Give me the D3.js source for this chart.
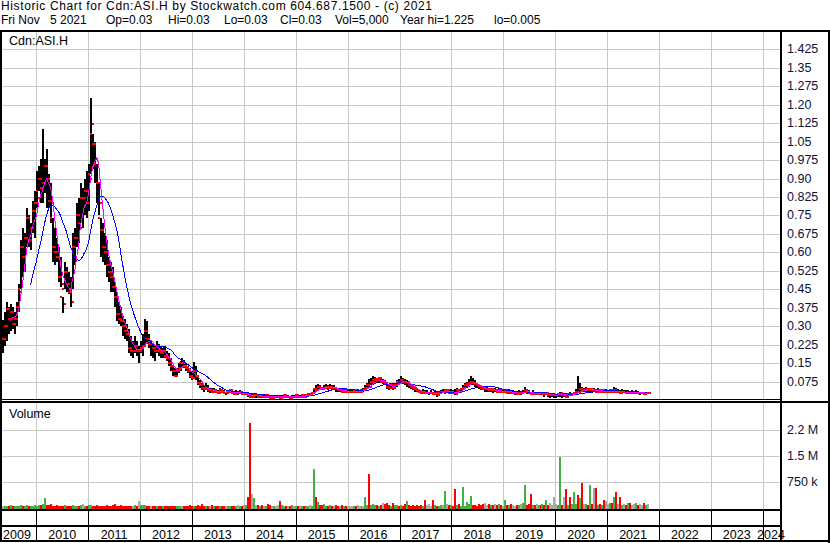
<!DOCTYPE html>
<html><head><meta charset="utf-8">
<script src="https://cdn.jsdelivr.net/npm/d3@7"></script>
<style>
body{margin:0;background:#fff}
svg{display:block;font-family:Arial,"Liberation Sans",sans-serif}
</style>
</head><body>
<svg id="c" width="830" height="543"></svg>
<script>
// ---------------- DATA ----------------
const titleText = "Historic Chart for Cdn:ASI.H by Stockwatch.com 604.687.1500 - (c) 2021";
const quoteFields = ["Fri Nov", "5 2021", "Op=0.03", "Hi=0.03", "Lo=0.03", "Cl=0.03", "Vol=5,000", "Year hi=1.225", "lo=0.005"];
const symbolLabel = "Cdn:ASI.H";
const volumeLabel = "Volume";
const firstBarDate = "2009-05-08";
const barStepDays = 14;   // one bar every two weeks
const shortMAPeriod = 5, longMAPeriod = 15;

const highs = [
.325,.36,.40,.38,.39,.38,.36,.40,.47,.65,
.70,.68,.78,.75,.72,.81,.85,.93,.95,.98,
1.10,.98,1.02,.92,.88,.74,.70,.66,.62,.58,
.42,.56,.54,.52,.50,.68,.70,.80,.82,.88,
.86,.90,.93,.96,1.225,1.08,1.05,.96,.88,.74,
.72,.68,.65,.58,.56,.54,.48,.44,.40,.38,
.34,.33,.31,.29,.26,.24,.26,.24,.22,.24,
.27,.33,.32,.27,.24,.23,.22,.24,.23,.22,
.21,.22,.20,.19,.17,.14,.13,.13,.15,.16,
.17,.165,.15,.14,.13,.12,.155,.14,.10,.08,
.07,.06,.07,.06,.05,.05,.05,.045,.04,.05,
.045,.04,.035,.04,.045,.04,.035,.04,.035,.04,
.035,.03,.035,.03,.03,.025,.03,.025,.02,.025,
.02,.02,.025,.02,.02,.015,.02,.02,.02,.02,
.02,.025,.02,.02,.015,.02,.02,.025,.02,.02,
.025,.02,.025,.03,.03,.035,.05,.06,.065,.06,
.055,.06,.065,.06,.065,.06,.06,.055,.05,.05,
.045,.045,.045,.04,.045,.04,.045,.04,.045,.04,
.045,.05,.06,.07,.085,.09,.10,.095,.09,.095,
.09,.085,.08,.065,.06,.065,.06,.07,.08,.085,
.10,.09,.085,.08,.07,.065,.06,.055,.05,.045,
.04,.045,.04,.04,.035,.04,.035,.04,.035,.035,
.04,.045,.045,.045,.04,.045,.04,.045,.05,.045,
.05,.06,.07,.075,.085,.098,.09,.08,.07,.065,
.06,.055,.05,.055,.05,.05,.045,.05,.045,.05,
.045,.04,.045,.04,.045,.04,.04,.035,.035,.04,
.035,.04,.055,.045,.04,.035,.04,.035,.03,.035,
.03,.035,.03,.035,.03,.025,.03,.025,.025,.03,
.035,.025,.03,.03,.03,.035,.03,.035,.045,.10,
.07,.055,.05,.055,.05,.05,.045,.05,.045,.05,
.045,.045,.04,.045,.04,.045,.045,.055,.05,.045,
.04,.045,.04,.04,.04,.035,.04,.035,.04,.035,
.035,.035,.03,.035,.03
];
const lows = [
.19,.22,.24,.27,.28,.29,.27,.30,.36,.45,
.50,.52,.62,.62,.61,.68,.66,.78,.85,.80,
.80,.84,.78,.78,.72,.56,.55,.56,.48,.46,
.355,.45,.44,.43,.38,.45,.55,.62,.64,.72,
.70,.75,.74,.77,.92,.94,.88,.80,.75,.58,
.56,.55,.50,.48,.44,.44,.38,.32,.31,.30,
.26,.25,.24,.19,.18,.17,.19,.18,.15,.19,
.18,.22,.23,.21,.18,.17,.16,.19,.18,.17,
.17,.17,.16,.14,.12,.10,.095,.10,.11,.12,
.13,.13,.12,.11,.09,.08,.09,.08,.06,.05,
.04,.035,.04,.035,.03,.03,.03,.03,.025,.03,
.03,.025,.02,.025,.03,.025,.02,.025,.02,.025,
.02,.02,.02,.015,.01,.01,.015,.01,.01,.01,
.01,.01,.015,.01,.01,.005,.01,.01,.01,.01,
.01,.01,.01,.01,.005,.01,.01,.015,.01,.01,
.015,.01,.015,.015,.02,.02,.03,.035,.04,.04,
.04,.04,.045,.04,.045,.04,.04,.035,.035,.035,
.03,.03,.03,.03,.03,.03,.03,.03,.03,.03,
.03,.035,.04,.045,.05,.06,.06,.065,.07,.07,
.07,.065,.06,.045,.04,.045,.04,.05,.055,.06,
.065,.065,.06,.055,.05,.045,.04,.035,.035,.03,
.025,.03,.025,.025,.02,.025,.02,.025,.015,.02,
.025,.03,.025,.03,.025,.03,.025,.02,.03,.03,
.035,.04,.045,.05,.055,.06,.06,.055,.05,.045,
.04,.04,.035,.035,.035,.035,.03,.035,.03,.03,
.03,.03,.03,.025,.03,.025,.025,.02,.02,.025,
.02,.025,.03,.025,.025,.02,.025,.02,.02,.02,
.02,.02,.015,.02,.015,.01,.015,.01,.01,.015,
.015,.01,.015,.01,.015,.02,.02,.02,.025,.03,
.035,.035,.035,.035,.03,.035,.03,.035,.03,.03,
.03,.03,.03,.03,.03,.03,.03,.035,.03,.03,
.025,.03,.03,.025,.03,.025,.025,.025,.025,.025,
.02,.025,.02,.02,.025
];
const closes = [
.25,.30,.37,.33,.36,.31,.33,.38,.44,.62,
.58,.66,.74,.65,.70,.77,.80,.82,.90,.86,
.88,.95,.90,.81,.80,.62,.60,.58,.50,.47,
.39,.52,.47,.44,.40,.62,.66,.75,.70,.82,
.82,.85,.80,.90,1.12,1.04,.98,.88,.80,.69,
.62,.60,.55,.52,.50,.46,.42,.35,.33,.32,
.30,.28,.27,.21,.20,.20,.22,.20,.20,.21,
.22,.28,.25,.23,.23,.21,.20,.22,.20,.19,
.20,.18,.17,.15,.14,.12,.10,.12,.13,.15,
.15,.14,.13,.12,.10,.09,.12,.10,.07,.06,
.05,.045,.05,.04,.04,.035,.04,.035,.03,.04,
.035,.03,.03,.035,.04,.03,.025,.03,.03,.035,
.025,.025,.03,.02,.015,.015,.02,.02,.015,.02,
.015,.015,.02,.015,.01,.01,.015,.015,.015,.01,
.015,.02,.015,.015,.01,.015,.015,.02,.015,.015,
.02,.015,.02,.025,.025,.03,.045,.04,.055,.05,
.045,.05,.055,.05,.055,.05,.05,.045,.04,.04,
.035,.04,.035,.035,.035,.035,.04,.035,.035,.035,
.04,.04,.05,.06,.055,.075,.08,.085,.08,.09,
.075,.075,.07,.055,.05,.06,.05,.06,.075,.07,
.08,.075,.07,.075,.06,.055,.05,.045,.04,.035,
.03,.035,.03,.03,.03,.03,.025,.03,.02,.03,
.035,.035,.04,.04,.03,.035,.03,.025,.04,.035,
.045,.05,.06,.065,.07,.075,.07,.065,.06,.055,
.05,.045,.045,.045,.04,.045,.04,.04,.035,.04,
.035,.035,.04,.03,.035,.03,.03,.03,.025,.03,
.03,.035,.04,.035,.03,.025,.03,.025,.025,.03,
.025,.03,.025,.03,.02,.02,.02,.02,.02,.025,
.03,.02,.02,.015,.025,.02,.025,.03,.035,.03,
.045,.04,.04,.045,.04,.045,.04,.04,.035,.04,
.035,.04,.035,.035,.035,.04,.035,.04,.035,.035,
.03,.035,.035,.03,.035,.03,.03,.03,.035,.03,
.03,.03,.025,.03,.03
];
const volumeThousands = [
40,30,50,35,60,45,30,50,40,70,
55,40,60,45,35,50,70,45,60,80,
90,260,70,60,115,50,40,60,30,45,
35,60,40,30,50,70,45,55,40,60,
90,50,40,60,70,55,40,60,35,45,
50,40,60,35,45,70,100,50,40,60,
45,35,50,40,55,30,60,45,200,70,
60,80,45,35,50,40,30,55,45,35,
40,30,50,35,45,30,40,35,50,30,
35,45,30,40,60,35,50,40,60,45,
100,50,40,30,45,60,35,40,30,50,
40,35,55,30,45,40,35,30,60,50,
45,60,80,290,2450,400,260,80,60,45,
70,50,40,90,60,40,30,50,70,200,
60,40,45,30,50,60,35,40,45,30,
40,30,50,45,60,40,1100,290,170,80,
60,90,50,40,70,45,35,80,50,40,
60,35,45,40,30,50,40,35,60,45,
40,50,290,60,980,60,110,80,70,50,
60,140,90,120,60,50,140,70,60,40,
70,50,90,200,60,40,80,50,60,40,
70,45,230,60,90,40,230,60,50,40,
80,70,490,100,60,80,40,520,70,100,
50,600,40,170,90,320,80,60,45,100,
70,90,120,60,100,80,70,110,60,90,
80,50,230,60,70,100,60,50,80,60,
90,130,660,70,110,400,80,60,90,70,
60,100,80,230,70,120,60,300,90,80,
1450,60,290,520,80,290,100,460,90,375,
260,720,110,90,60,660,100,570,550,80,
100,60,230,200,90,140,120,300,460,100,
300,60,110,80,120,120,60,100,140,70,
90,60,130,70,100
];
const priceTicks = [0.075,0.15,0.225,0.30,0.375,0.45,0.525,0.60,0.675,0.75,0.825,0.90,0.975,1.05,1.125,1.20,1.275,1.35,1.425];
const priceTickLabels = ["0.075","0.15","0.225","0.30","0.375","0.45","0.525","0.60","0.675","0.75","0.825","0.90","0.975","1.05","1.125","1.20","1.275","1.35","1.425"];
const volumeTicks = [750000, 1500000, 2250000];
const volumeTickLabels = ["750 k", "1.5 M", "2.2 M"];
const yearLabels = ["2009","2010","2011","2012","2013","2014","2015","2016","2017","2018","2019","2020","2021","2022","2023","2024"];

// ---------------- LAYOUT ----------------
const W = 830, H = 543;
const plotL = 2, plotR = 781;
const svg = d3.select("#c");
svg.append("rect").attr("width", W).attr("height", H).attr("fill", "#fff");

const x = d3.scaleTime().domain([new Date(2010,0,1), new Date(2024,0,1)]).range([36.3, 762.7]);
const yP = d3.scaleLinear().domain([0, 1.5]).range([400.2, 30.75]);
const yV = d3.scaleLinear().domain([0, 3000000]).range([507.5, 403.5]);

const start = new Date(firstBarDate + "T00:00:00");
const dates = closes.map((_, i) => d3.timeDay.offset(start, i * barStepDays));
const px = i => Math.round(x(dates[i])) + 0.5;

// grid
const grid = svg.append("g").attr("stroke", "#c8c8c8").attr("shape-rendering", "crispEdges");
priceTicks.forEach(t => {
  const yy = Math.round(yP(t)) + 0.5;
  grid.append("line").attr("x1", plotL).attr("x2", plotR).attr("y1", yy).attr("y2", yy);
});
volumeTicks.forEach(t => {
  const yy = Math.round(yV(t)) + 0.5;
  grid.append("line").attr("x1", plotL).attr("x2", plotR).attr("y1", yy).attr("y2", yy);
});
const yearStarts = yearLabels.map(y => new Date(+y, 0, 1));
yearStarts.slice(1).forEach(d => {
  const xx = Math.round(x(d)) + 0.5;
  grid.append("line").attr("x1", xx).attr("x2", xx).attr("y1", 32).attr("y2", 399);
  grid.append("line").attr("x1", xx).attr("x2", xx).attr("y1", 403).attr("y2", 509);
});

// volume bars
const volColor = i => i === 0 || closes[i] === closes[i-1] ? "#a9a9a9" : (closes[i] > closes[i-1] ? "#44b044" : "#ff0000");
svg.append("g").attr("shape-rendering", "crispEdges")
  .selectAll("rect").data(volumeThousands).join("rect")
  .attr("x", (d, i) => px(i) - 0.5)
  .attr("width", 2)
  .attr("y", d => yV(d * 1000))
  .attr("height", d => yV(0) + 1.5 - yV(d * 1000))
  .attr("fill", (d, i) => volColor(i));

// price bars: high-low bar, red open tick (left) and close tick (right)
const bars = svg.append("g").attr("shape-rendering", "crispEdges");
bars.selectAll("rect.hl").data(closes).join("rect").attr("class", "hl")
  .attr("x", (d, i) => px(i) - 0.5)
  .attr("width", 2)
  .attr("y", (d, i) => Math.round(yP(highs[i])))
  .attr("height", (d, i) => Math.max(Math.round(yP(lows[i])) - Math.round(yP(highs[i])), 1))
  .attr("fill", "#000");
bars.selectAll("rect.cl").data(closes).join("rect").attr("class", "cl")
  .attr("x", (d, i) => px(i) + 1.5)
  .attr("y", d => Math.round(yP(d)) - 1)
  .attr("width", 2).attr("height", 2)
  .attr("fill", "#ff0000");
bars.selectAll("rect.op").data(closes.slice(1)).join("rect").attr("class", "op")
  .attr("x", (d, i) => px(i + 1) - 2.5)
  .attr("y", (d, i) => Math.round(yP(Math.min(Math.max(closes[i], lows[i + 1]), highs[i + 1]))) - 1)
  .attr("width", 2).attr("height", 2)
  .attr("fill", "#ff0000");

// moving averages
function sma(arr, n) { return arr.map((_, i) => i < n - 1 ? null : d3.mean(arr.slice(i - n + 1, i + 1))); }
const maShort = sma(closes, shortMAPeriod);
const maLong = sma(closes, longMAPeriod);
const line = d3.line().defined(d => d.v != null).x(d => px(d.i)).y(d => yP(d.v));
svg.append("path").datum(maLong.map((v, i) => ({v, i})))
  .attr("d", line).attr("fill", "none").attr("stroke", "#0000ff").attr("stroke-width", 1).attr("shape-rendering", "crispEdges");
svg.append("path").datum(maShort.map((v, i) => ({v, i})))
  .attr("d", line).attr("fill", "none").attr("stroke", "#ff00ff").attr("stroke-width", 1).attr("shape-rendering", "crispEdges");

// frame lines
const frame = svg.append("g").attr("fill", "#000").attr("shape-rendering", "crispEdges");
frame.append("rect").attr("x", 0).attr("y", 30).attr("width", W).attr("height", 2);      // header line
frame.append("rect").attr("x", 0).attr("y", 30).attr("width", 2).attr("height", 512);    // left
frame.append("rect").attr("x", 780).attr("y", 30).attr("width", 2).attr("height", 512);  // plot right
frame.append("rect").attr("x", 828).attr("y", 30).attr("width", 2).attr("height", 513);  // image right
frame.append("rect").attr("x", plotL).attr("y", 399).attr("width", plotR - plotL).attr("height", 1);
frame.append("rect").attr("x", 0).attr("y", 401).attr("width", W).attr("height", 2);    // panel separator
frame.append("rect").attr("x", 0).attr("y", 509).attr("width", 781).attr("height", 2);  // volume bottom
frame.append("rect").attr("x", 0).attr("y", 525).attr("width", 781).attr("height", 2);  // year row top
frame.append("rect").attr("x", 0).attr("y", 540).attr("width", W).attr("height", 2);    // bottom
yearStarts.slice(1).forEach(d => {
  const xx = Math.round(x(d));
  frame.append("rect").attr("x", xx).attr("y", 511).attr("width", 1).attr("height", 14);
  frame.append("rect").attr("x", xx).attr("y", 527).attr("width", 1).attr("height", 13);
});

// year labels
const yl = svg.append("g").attr("font-size", "12.5px").attr("fill", "#000").attr("text-anchor", "middle");
yearLabels.forEach((lab, k) => {
  const a = x(yearStarts[k]);
  const b = x(new Date(+lab + 1, 0, 1));
  const c = Math.max(plotL + 15, Math.min(plotR - 10, (a + b) / 2));
  yl.append("text").attr("x", c).attr("y", 538.5).text(lab);
});

// right axes
const pAxis = svg.append("g").attr("transform", "translate(784,0)")
  .call(d3.axisRight(yP).tickValues(priceTicks).tickFormat((d, i) => priceTickLabels[i]).tickSize(0).tickPadding(3));
const vAxis = svg.append("g").attr("transform", "translate(784,0)")
  .call(d3.axisRight(yV).tickValues(volumeTicks).tickFormat((d, i) => volumeTickLabels[i]).tickSize(0).tickPadding(3));
[pAxis, vAxis].forEach(g => {
  g.select(".domain").remove();
  g.selectAll("text").attr("font-size", "12.5px").attr("font-family", "Arial, 'Liberation Sans', sans-serif")
    .attr("fill", "#10103a").attr("dy", "0.28em");
});

// panel labels
svg.append("text").attr("x", 9).attr("y", 45).attr("font-size", "12.5px").attr("fill", "#000").text(symbolLabel);
svg.append("text").attr("x", 9).attr("y", 418).attr("font-size", "12.5px").attr("fill", "#000").text(volumeLabel);

// header
svg.append("text").attr("x", 1).attr("y", 10).attr("font-size", "12px").attr("fill", "#000")
  .attr("textLength", 431).attr("lengthAdjust", "spacing").text(titleText);
const fieldX = [1, 50, 106, 168, 224, 280, 335, 400, 494];
quoteFields.forEach((f, k) => {
  svg.append("text").attr("x", fieldX[k]).attr("y", 23.5).attr("font-size", "12px").attr("fill", "#000").text(f);
});
</script>
</body></html>
